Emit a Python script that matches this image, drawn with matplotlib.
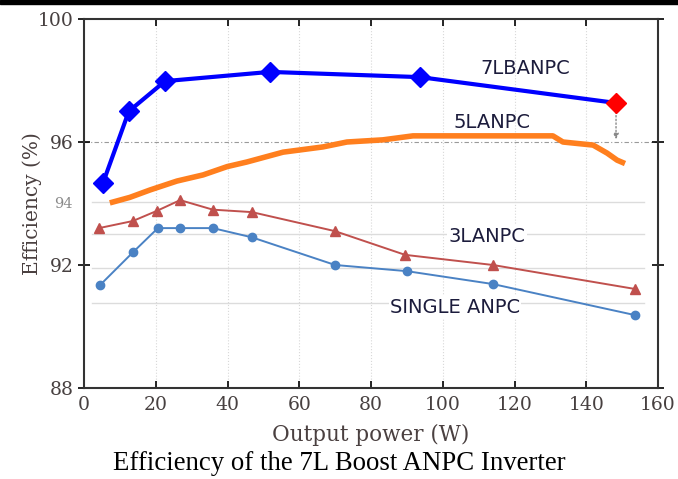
import matplotlib.pyplot as plt

# data
x_7l = [5.3, 12.5, 22.6, 51.8, 93.7]
y_7l = [94.67, 97.0, 97.98, 98.28, 98.11]
x_7l_end = 148.3
y_7l_end = 97.27

x_5l = [7.2, 12.8, 18.4, 25.9, 33.2, 39.9, 45.4, 55.5, 66.6, 73.3, 83.3, 91.7,
        130.7, 133.5, 141.9, 145.8, 148.6, 150.8]
y_5l = [94.02, 94.2, 94.44, 94.73, 94.93, 95.2, 95.35, 95.67, 95.84, 96.0, 96.07, 96.2,
        96.2, 96.0, 95.9, 95.64, 95.41, 95.3]

x_3l = [4.2, 13.6, 20.3, 26.8, 35.9, 46.8, 70.0, 89.5, 114.0, 153.6]
y_3l = [93.2, 93.43, 93.76, 94.11, 93.8, 93.72, 93.1, 92.33, 92.0, 91.22]

x_single = [4.5, 13.7, 20.6, 26.8, 35.9, 46.8, 70.0, 90.0, 114.0, 153.6]
y_single = [91.35, 92.42, 93.2, 93.2, 93.2, 92.9, 92.0, 91.8, 91.38, 90.37]

grid_y = [94.05, 93.0, 91.9, 90.76]
xticks = [0, 20, 40, 60, 80, 100, 120, 140, 160]
yticks = [100, 96, 92, 88]

fig = plt.figure(figsize=(6.78, 4.79), dpi=100)
ax = fig.add_axes([0.1239, 0.19, 0.8466, 0.7703])

# faint grid
for xv in xticks[1:-1]:
    ax.axvline(xv, color='#d8d8d8', lw=0.8, ls=':', zorder=0)
for gy in grid_y:
    ax.axhline(gy, xmin=0.014, xmax=0.975, color='#dcdcdc', lw=1.0, zorder=0)
ax.axhline(96, color='#9a9a9a', lw=0.8, ls=(0, (4, 2, 1, 2)), zorder=1)

ax.plot(x_single, y_single, color='#4a82c4', lw=1.4, marker='o', ms=6, zorder=3)
ax.plot(x_3l, y_3l, color='#c0504d', lw=1.4, marker='^', ms=6.5, zorder=3)
ax.plot(x_5l, y_5l, color='#ff7f1e', lw=4, solid_capstyle='butt', zorder=3)
ax.plot(x_7l + [x_7l_end], y_7l + [y_7l_end], color='#0000ff', lw=3, zorder=4)
ax.plot(x_7l, y_7l, ls='none', marker='D', ms=10.5, color='#0000ff', zorder=5)
ax.plot([x_7l_end], [y_7l_end], ls='none', marker='D', ms=10.5, color='#ff0000', zorder=5)
ax.annotate('', xy=(x_7l_end, 96.0), xytext=(x_7l_end, y_7l_end - 0.2),
            arrowprops=dict(arrowstyle='-|>', color='#888888', lw=1, ls=':',
                            mutation_scale=8), zorder=4)

lbl = dict(fontsize=14, color='#1c1c3c', ha='center', va='center',
           family='DejaVu Sans', zorder=6)
ax.text(122.9, 98.4, '7LBANPC', **lbl)
ax.text(113.7, 96.65, '5LANPC', **lbl)
ax.text(112.3, 92.94, '3LANPC',
        bbox=dict(facecolor='white', edgecolor='none', pad=1), **lbl)
ax.text(103.4, 90.63, 'SINGLE ANPC',
        bbox=dict(facecolor='white', edgecolor='none', pad=1), **lbl)

ax.set_xlim(0, 160)
ax.set_ylim(88, 100)
ax.set_xticks(xticks)
ax.set_yticks(yticks)
ax.tick_params(axis='both', direction='in', length=5, width=1.2,
               labelsize=13.5, labelcolor='#474040', top=True, right=True)
ax.tick_params(axis='x', pad=6)
ax.tick_params(axis='y', direction='inout', length=8)
for lab in ax.get_xticklabels() + ax.get_yticklabels():
    lab.set_family('DejaVu Serif')
ax.text(-0.02, 94, '94', transform=ax.get_yaxis_transform(), ha='right', va='center',
        fontsize=10.5, color='#8a8a8a', family='DejaVu Serif')

for s in ax.spines.values():
    s.set_linewidth(1.5)
    s.set_color('#333333')

ax.set_xlabel('Output power (W)', fontsize=15.5, family='DejaVu Serif', color='#4a4040',
              labelpad=7)
ax.set_ylabel('Efficiency (%)', fontsize=14.5, family='DejaVu Serif', color='#4a4040',
              labelpad=-3)

fig.text(0.5, 1 - 463 / 479, 'Efficiency of the 7L Boost ANPC Inverter',
         ha='center', va='center', fontsize=19.3, family='Liberation Serif', color='black')

# black strip along the top edge
fig.add_artist(plt.Rectangle((0, 1 - 4 / 479), 1, 4 / 479, transform=fig.transFigure,
                             color='black'))

fig.savefig('out.png', dpi=100)
